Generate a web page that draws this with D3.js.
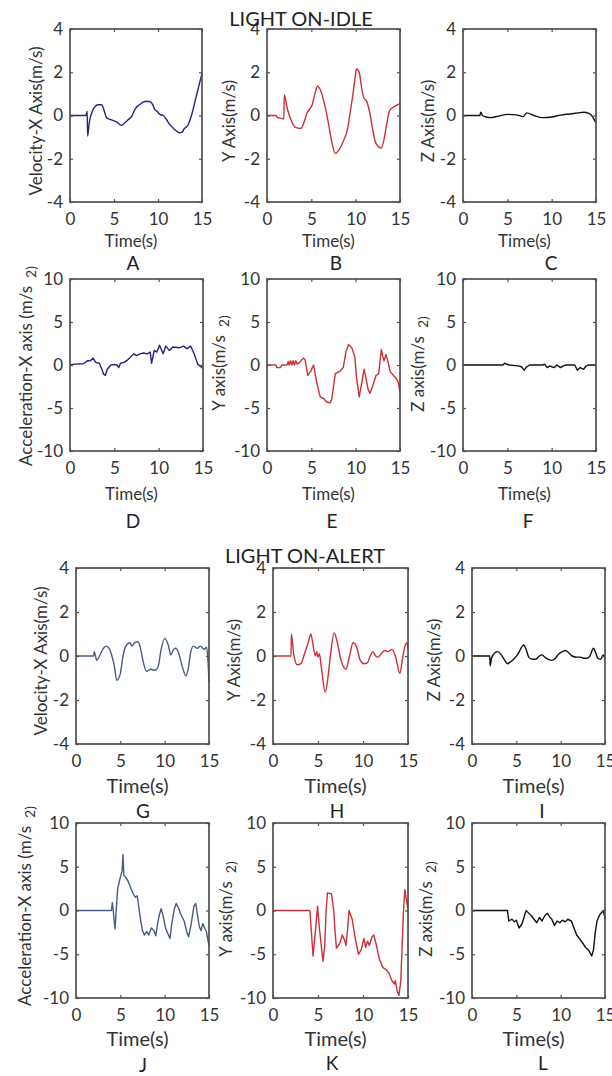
<!DOCTYPE html>
<html>
<head>
<meta charset="utf-8">
<script src="https://cdn.jsdelivr.net/npm/d3@7"></script>
<style>
  html, body { margin: 0; padding: 0; background: #fff; }
  svg { display: block; }
</style>
</head>
<body>
<svg id="fig" width="612" height="1076"></svg>
<script>
// ---- tick values ----
const timeTicks = [0, 5, 10, 15];
const velTicks = [-4, -2, 0, 2, 4];
const accTicks = [-10, -5, 0, 5, 10];

// ---- LIGHT ON-IDLE : velocity (m/s), [time s, value] ----
const idleVelX = [[0,0],[1.8,0],[1.95,0.2],[2.0,-0.95],[2.2,-0.3],[2.5,0.15],[2.8,0.4],[3.2,0.5],[3.6,0.5],[3.9,0.2],[4.15,-0.1],[4.7,-0.2],[5.3,-0.3],[5.85,-0.45],[6.2,-0.35],[6.6,-0.2],[7.0,-0.05],[7.4,0.3],[7.9,0.5],[8.5,0.65],[9.05,0.65],[9.4,0.5],[9.6,0.3],[10.0,0.15],[10.2,0.05],[10.6,0.0],[10.9,-0.15],[11.3,-0.4],[11.9,-0.65],[12.45,-0.8],[12.7,-0.78],[13.0,-0.6],[13.4,-0.45],[13.8,0.0],[14.3,0.8],[14.6,1.3],[15,1.95]];
const idleVelY = [[0,0],[1.0,0],[1.2,-0.1],[1.9,-0.15],[1.95,0.95],[2.3,0.3],[2.8,-0.3],[3.2,-0.55],[3.8,-0.6],[4.1,-0.4],[4.5,0.1],[4.9,0.35],[5.1,0.5],[5.4,1.0],[5.7,1.35],[6.0,1.2],[6.5,0.5],[6.9,-0.3],[7.3,-1.2],[7.7,-1.75],[8.1,-1.6],[8.6,-1.2],[9.1,-0.6],[9.4,0.2],[9.7,1.0],[9.95,1.8],[10.1,2.15],[10.4,2.0],[10.7,1.2],[10.9,0.85],[11.3,0.6],[11.6,0.1],[11.9,-0.6],[12.2,-1.2],[12.6,-1.45],[12.9,-1.5],[13.2,-1.1],[13.5,-0.4],[13.8,0.2],[14.1,0.35],[14.5,0.45],[15,0.55]];
const idleVelZ = [[0,0],[1.9,0],[2.0,0.15],[2.2,0.0],[2.5,-0.05],[3.0,-0.1],[4.0,-0.03],[5.0,0.05],[6.0,0.03],[6.8,-0.05],[7.2,0.12],[8.0,0.0],[9.0,-0.1],[10.0,-0.07],[11.0,0.02],[12.0,0.07],[13.0,0.12],[13.6,0.15],[14.2,0.1],[14.6,-0.05],[15,-0.35]];

// ---- LIGHT ON-IDLE : acceleration (m/s^2) ----
const idleAccX = [[0,0],[0.5,0.1],[1.5,0.15],[2.0,0.5],[2.3,0.5],[2.6,0.8],[2.9,0.3],[3.3,0.2],[3.6,-0.5],[3.8,-1.1],[4.0,-1.2],[4.2,-0.5],[4.6,0.0],[5.0,0.05],[5.3,0.0],[5.5,-0.3],[5.7,0.2],[6.1,0.3],[6.4,0.5],[6.8,0.9],[7.2,1.3],[7.5,1.1],[7.9,1.3],[8.3,1.4],[8.7,1.3],[9.05,1.5],[9.2,0.2],[9.5,1.7],[9.8,1.5],[10.1,2.3],[10.5,1.3],[10.8,2.2],[11.2,1.7],[11.6,2.1],[12.3,2.0],[12.8,2.2],[13.2,1.9],[13.6,2.2],[14.0,1.3],[14.4,0.1],[15,-0.4]];
const idleAccY = [[0,0],[1.0,0],[1.1,-0.3],[1.5,-0.3],[1.7,0.0],[2.25,0.0],[2.4,0.4],[2.5,0.0],[2.65,0.5],[2.8,0.0],[2.95,0.5],[3.1,0.0],[3.25,0.5],[3.4,0.1],[3.7,0.3],[4.1,0.8],[4.3,0.6],[4.6,-1.2],[4.9,-0.8],[5.25,0.0],[5.6,-2.0],[6.0,-3.7],[6.4,-3.9],[6.7,-4.3],[7.1,-4.4],[7.3,-4.0],[7.5,-2.5],[7.7,-1.0],[8.25,-0.7],[8.6,-0.3],[8.9,1.5],[9.2,2.4],[9.55,2.0],[9.9,1.0],[10.1,-1.5],[10.4,-3.7],[10.7,-2.0],[10.95,-0.5],[11.1,-1.2],[11.4,-2.8],[11.6,-3.3],[11.9,-2.5],[12.3,-1.2],[12.6,-1.0],[12.75,0.5],[12.9,1.8],[13.05,1.0],[13.2,0.5],[13.4,1.2],[13.6,0.6],[13.9,-0.8],[14.25,-1.2],[14.6,-1.6],[14.8,-2.0],[15,-3.2]];
const idleAccZ = [[0,0],[4.5,0],[4.7,0.2],[5.2,0.0],[6.2,-0.1],[6.6,-0.2],[6.9,-0.6],[7.2,-0.2],[7.5,0.0],[9.0,0.0],[9.2,0.1],[9.5,-0.3],[9.8,-0.1],[10.0,-0.2],[10.3,-0.3],[10.6,0.0],[11.0,-0.3],[11.3,-0.1],[11.6,0.0],[12.6,0.0],[12.9,-0.6],[13.2,-0.3],[13.6,-0.5],[13.9,-0.1],[14.2,0.0],[15,0.0]];

// ---- LIGHT ON-ALERT : velocity (m/s) ----
const alertVelX = [[0,0],[2.0,0],[2.05,0.2],[2.35,-0.2],[2.65,0.0],[3.1,0.35],[3.4,0.45],[3.8,0.3],[4.05,0.0],[4.3,-0.4],[4.6,-1.1],[5.0,-0.8],[5.3,0.0],[5.7,0.5],[6.1,0.6],[6.3,0.45],[6.6,0.6],[7.0,0.65],[7.3,0.3],[7.6,-0.3],[7.95,-0.7],[8.4,-0.6],[8.9,-0.65],[9.25,-0.5],[9.6,0.3],[10.0,0.8],[10.4,0.5],[10.7,0.05],[11.0,0.3],[11.25,0.35],[11.6,0.1],[12.0,-0.5],[12.4,-0.9],[12.65,-0.6],[12.95,0.2],[13.25,0.45],[13.7,0.35],[14.0,0.45],[14.5,0.3],[14.7,0.4],[14.85,0.0],[15,-1.2]];
const alertVelY = [[0,0],[2.0,0],[2.05,1.0],[2.3,0.1],[2.7,-0.4],[3.1,-0.35],[3.5,0.1],[3.9,0.6],[4.2,1.0],[4.45,0.5],[4.7,0.0],[4.85,0.2],[5.0,-0.05],[5.15,0.1],[5.4,-0.6],[5.8,-1.65],[6.1,-1.0],[6.4,0.1],[6.8,1.05],[7.1,0.7],[7.5,-0.1],[8.1,-0.6],[8.5,0.0],[8.9,0.6],[9.3,0.4],[9.7,-0.2],[10.1,-0.35],[10.5,-0.3],[10.8,0.0],[11.1,0.2],[11.4,0.0],[11.7,-0.05],[12.1,0.15],[12.4,0.25],[12.8,0.2],[13.2,0.3],[13.6,0.0],[14.1,-0.8],[14.4,-0.1],[14.7,0.5],[14.9,0.6],[15,0.3]];
const alertVelZ = [[0,0],[2.0,0],[2.05,-0.45],[2.2,-0.1],[2.6,0.15],[2.9,0.2],[3.3,0.05],[3.7,-0.2],[4.0,-0.35],[4.4,-0.25],[4.8,-0.1],[5.2,0.1],[5.6,0.4],[5.85,0.5],[6.1,0.3],[6.4,-0.05],[6.8,-0.15],[7.2,-0.15],[7.6,0.0],[7.9,0.05],[8.2,-0.05],[8.6,-0.15],[9.0,-0.2],[9.4,-0.1],[9.8,0.1],[10.2,0.2],[10.5,0.25],[10.9,0.15],[11.3,0.0],[11.8,-0.05],[12.2,-0.05],[12.6,-0.1],[13.0,-0.1],[13.3,0.0],[13.7,0.35],[13.9,0.2],[14.2,-0.1],[14.5,-0.15],[14.8,0.05],[15,-0.15]];

// ---- LIGHT ON-ALERT : acceleration (m/s^2) ----
const alertAccX = [[0,0],[4.0,0],[4.1,0.9],[4.2,0],[4.4,-2.1],[4.5,-0.5],[4.7,2.5],[5.0,3.8],[5.2,4.5],[5.3,6.4],[5.4,4.0],[5.6,3.8],[5.8,3.5],[6.1,2.8],[6.4,2.0],[6.7,1.5],[6.9,1.7],[7.1,0.3],[7.3,-1.2],[7.5,-2.3],[7.7,-2.8],[8.0,-2.4],[8.2,-2.8],[8.5,-2.0],[8.8,-2.3],[9.0,-2.9],[9.2,-1.5],[9.4,-0.5],[9.6,0.2],[9.8,-0.5],[10.1,-2.0],[10.3,-2.5],[10.6,-3.2],[10.8,-1.5],[11.1,0.2],[11.3,0.8],[11.6,0.2],[11.8,-0.4],[12.2,-1.2],[12.5,-2.5],[12.7,-3.0],[13.0,-1.5],[13.3,0.5],[13.5,0.8],[13.7,-0.5],[13.9,-1.8],[14.1,-2.3],[14.3,-1.5],[14.5,-2.0],[14.7,-2.4],[15,-4.0]];
const alertAccY = [[0,0],[4.1,0],[4.45,-5.2],[4.7,-2.5],[4.95,0.5],[5.15,-2.0],[5.55,-5.8],[5.75,-4.0],[5.9,0.0],[6.05,2.0],[6.5,1.9],[6.75,0.0],[6.9,-2.5],[7.05,-4.3],[7.4,-3.8],[7.7,-2.8],[8.0,-3.5],[8.1,-4.0],[8.3,-2.0],[8.45,0.0],[8.8,-1.0],[9.1,-3.0],[9.5,-5.0],[9.8,-4.5],[10.1,-3.2],[10.3,-4.2],[10.5,-3.5],[10.7,-4.0],[11.0,-3.0],[11.2,-2.8],[11.5,-4.0],[11.8,-5.5],[12.2,-6.5],[12.6,-6.8],[12.9,-7.2],[13.2,-8.0],[13.5,-8.4],[13.6,-8.0],[13.8,-9.2],[14.0,-9.7],[14.2,-8.0],[14.35,-4.0],[14.5,0.0],[14.65,2.4],[14.85,1.0],[15,0.2]];
const alertAccZ = [[0,0],[4.0,0],[4.15,-1.2],[4.5,-1.0],[4.8,-1.3],[5.0,-1.1],[5.3,-2.0],[5.6,-1.6],[5.8,-1.0],[6.1,0.0],[6.4,-0.3],[6.7,-0.6],[7.0,-1.0],[7.3,-1.4],[7.6,-0.8],[7.9,-1.2],[8.2,-0.6],[8.5,-0.3],[8.8,-0.8],[9.0,-1.0],[9.3,-1.7],[9.6,-1.2],[9.9,-1.4],[10.2,-1.1],[10.5,-1.3],[10.8,-1.0],[11.2,-1.2],[11.5,-2.0],[11.8,-2.8],[12.1,-3.2],[12.4,-3.6],[12.8,-4.2],[13.2,-4.6],[13.5,-5.2],[13.7,-4.5],[13.9,-2.5],[14.1,-1.2],[14.4,-0.5],[14.8,0.0],[14.95,-0.6],[15,-1.0]];

// ---- line colours ----
const navy = "#22228a";
const steel = "#4a5b88";
const red = "#cc3038";
const black = "#111111";

const FONT = "Lato, 'Open Sans', sans-serif";

// panel layout: box = [left, top, width, height]
const panels = [
  { data: idleVelX, color: navy, smooth: true, yDomain: [-4, 4], yTicks: velTicks, box: [70, 29, 132, 173], ylab: "Velocity-X Axis(m/s)", sq: false, labPos: [35, 121], letter: "A", letPos: [133, 262], timeSize: 17, timeY: 240 },
  { data: idleVelY, color: red, smooth: true, yDomain: [-4, 4], yTicks: velTicks, box: [267, 29, 133, 173], ylab: "Y Axis(m/s)", sq: false, labPos: [228, 121], letter: "B", letPos: [336, 262], timeSize: 17, timeY: 240 },
  { data: idleVelZ, color: black, smooth: true, yDomain: [-4, 4], yTicks: velTicks, box: [463, 29, 133, 173], ylab: "Z Axis(m/s)", sq: false, labPos: [427, 121], letter: "C", letPos: [551, 262], timeSize: 17, timeY: 240 },
  { data: idleAccX, color: navy, smooth: false, yDomain: [-10, 10], yTicks: accTicks, box: [70, 279, 133, 172], ylab: "Acceleration-X axis (m/s", sq: true, labPos: [25, 366], letter: "D", letPos: [133, 520], timeSize: 17, timeY: 493 },
  { data: idleAccY, color: red, smooth: false, yDomain: [-10, 10], yTicks: accTicks, box: [267, 279, 133, 172], ylab: "Y axis(m/s", sq: true, labPos: [218, 363], letter: "E", letPos: [332, 520], timeSize: 17, timeY: 493 },
  { data: idleAccZ, color: black, smooth: false, yDomain: [-10, 10], yTicks: accTicks, box: [463, 279, 133, 172], ylab: "Z axis(m/s", sq: true, labPos: [417, 364], letter: "F", letPos: [528, 520], timeSize: 17, timeY: 493 },
  { data: alertVelX, color: steel, smooth: true, yDomain: [-4, 4], yTicks: velTicks, box: [76, 568, 133, 176], ylab: "Velocity-X Axis(m/s)", sq: false, labPos: [40, 661], letter: "G", letPos: [143, 810], timeSize: 20, timeY: 785 },
  { data: alertVelY, color: red, smooth: true, yDomain: [-4, 4], yTicks: velTicks, box: [273, 568, 135, 176], ylab: "Y Axis(m/s)", sq: false, labPos: [233, 660], letter: "H", letPos: [337, 810], timeSize: 20, timeY: 785 },
  { data: alertVelZ, color: black, smooth: true, yDomain: [-4, 4], yTicks: velTicks, box: [472, 568, 133, 176], ylab: "Z Axis(m/s)", sq: false, labPos: [433, 660], letter: "I", letPos: [542, 810], timeSize: 20, timeY: 785 },
  { data: alertAccX, color: steel, smooth: false, yDomain: [-10, 10], yTicks: accTicks, box: [76, 823, 133, 175], ylab: "Acceleration-X axis (m/s", sq: true, labPos: [24, 906], letter: "J", letPos: [143, 1064], timeSize: 20, timeY: 1038 },
  { data: alertAccY, color: red, smooth: false, yDomain: [-10, 10], yTicks: accTicks, box: [273, 823, 135, 175], ylab: "Y axis(m/s", sq: true, labPos: [225, 909], letter: "K", letPos: [332, 1062], timeSize: 20, timeY: 1038 },
  { data: alertAccZ, color: black, smooth: false, yDomain: [-10, 10], yTicks: accTicks, box: [472, 823, 133, 175], ylab: "Z axis(m/s", sq: true, labPos: [425, 909], letter: "L", letPos: [543, 1062], timeSize: 20, timeY: 1038 }
];

const svg = d3.select("#fig");
const frameColor = "#505050";
const textColor = "#333";

panels.forEach(p => {
  const [x0, y0, w, h] = p.box;
  const g = svg.append("g").attr("transform", `translate(${x0},${y0})`);
  const x = d3.scaleLinear().domain([0, 15]).range([0, w]);
  const y = d3.scaleLinear().domain(p.yDomain).range([h, 0]);

  const line = d3.line()
    .x(d => x(d[0]))
    .y(d => y(d[1]))
    .curve(p.smooth ? d3.curveMonotoneX : d3.curveLinear);

  g.append("path")
    .datum(p.data)
    .attr("d", line)
    .attr("fill", "none")
    .attr("stroke", p.color)
    .attr("stroke-width", 1.4)
    .attr("stroke-linejoin", "round");

  const fmt = d => String(d);
  g.append("g").attr("transform", `translate(0,${h})`)
    .call(d3.axisBottom(x).tickValues(timeTicks).tickSize(-3).tickPadding(11).tickFormat(fmt));
  g.append("g")
    .call(d3.axisTop(x).tickValues(timeTicks).tickSize(-3).tickFormat(""));
  g.append("g")
    .call(d3.axisLeft(y).tickValues(p.yTicks).tickSize(-3).tickPadding(7).tickFormat(fmt));
  g.append("g").attr("transform", `translate(${w},0)`)
    .call(d3.axisRight(y).tickValues(p.yTicks).tickSize(-3).tickFormat(""));

  g.selectAll(".domain").remove();
  g.selectAll(".tick line").attr("stroke", frameColor).attr("stroke-width", 1.2);
  g.selectAll(".tick text")
    .attr("font-family", FONT)
    .attr("font-size", 17)
    .attr("fill", textColor);

  g.append("rect")
    .attr("width", w).attr("height", h)
    .attr("fill", "none")
    .attr("stroke", frameColor)
    .attr("stroke-width", 1.7);

  // x-axis title
  svg.append("text")
    .attr("x", x0 + w / 2 - 5)
    .attr("y", p.timeY)
    .attr("text-anchor", "middle")
    .attr("dominant-baseline", "central")
    .attr("font-family", FONT)
    .attr("font-size", p.timeSize)
    .attr("fill", textColor)
    .text("Time(s)");

  // y-axis title (rotated)
  const t = svg.append("text")
    .attr("transform", `translate(${p.labPos[0]},${p.labPos[1]}) rotate(-90)`)
    .attr("text-anchor", "middle")
    .attr("dominant-baseline", "central")
    .attr("font-family", FONT)
    .attr("font-size", 17)
    .attr("fill", textColor);
  t.append("tspan").text(p.ylab);
  if (p.sq) {
    t.append("tspan").attr("dx", 8).attr("dy", 5).attr("font-size", 14).text("2)");
  }

  // panel letter
  svg.append("text")
    .attr("x", p.letPos[0])
    .attr("y", p.letPos[1])
    .attr("text-anchor", "middle")
    .attr("dominant-baseline", "central")
    .attr("font-family", FONT)
    .attr("font-size", 19)
    .attr("fill", "#222")
    .text(p.letter);
});

// section titles
const sections = [
  { text: "LIGHT ON-IDLE", x: 301, y: 26 },
  { text: "LIGHT ON-ALERT", x: 305, y: 563 }
];
sections.forEach(s => {
  svg.append("text")
    .attr("x", s.x).attr("y", s.y)
    .attr("text-anchor", "middle")
    .attr("font-family", FONT)
    .attr("font-size", 20)
    .attr("fill", "#222")
    .text(s.text);
});
</script>
</body>
</html>
